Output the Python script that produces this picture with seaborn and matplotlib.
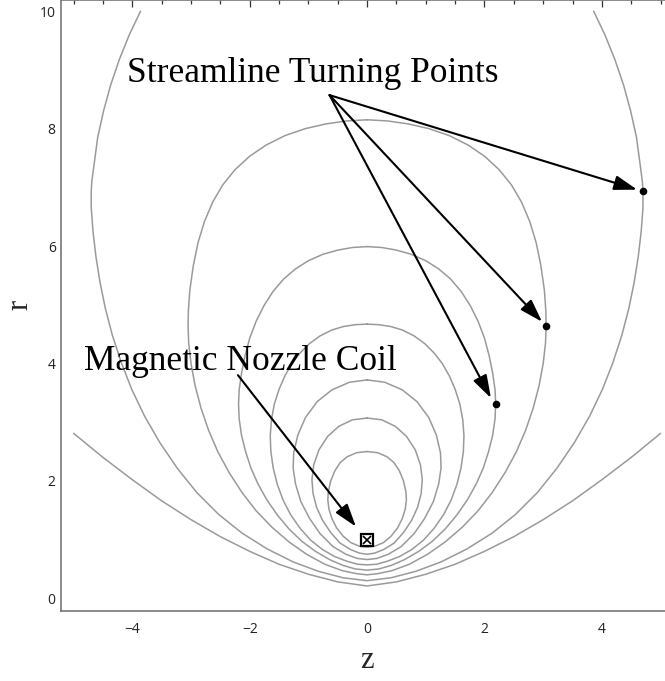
import numpy as np
import pandas as pd
import seaborn as sns
import matplotlib
matplotlib.use("Agg")
import matplotlib.pyplot as plt
from matplotlib.ticker import MultipleLocator

# ---- data: right halves (z >= 0) of each field line ----
c1_z = [0, 0.18, 0.34, 0.46, 0.55, 0.62, 0.66, 0.67, 0.65, 0.60, 0.52, 0.41, 0.28, 0.14, 0]
c1_r = [2.50, 2.48, 2.41, 2.31, 2.17, 2.00, 1.82, 1.68, 1.52, 1.36, 1.20, 1.06, 0.95, 0.89, 0.87]
c2_z = [0, 0.25, 0.48, 0.67, 0.82, 0.91, 0.94, 0.92, 0.86, 0.76, 0.62, 0.46, 0.28, 0.13, 0]
c2_r = [3.07, 3.04, 2.93, 2.76, 2.53, 2.27, 2.02, 1.78, 1.55, 1.33, 1.12, 0.94, 0.83, 0.77, 0.75]
c3_z = [0, 0.30, 0.60, 0.85, 1.05, 1.18, 1.25, 1.26, 1.22, 1.13, 0.98, 0.80, 0.58, 0.36, 0.17, 0]
c3_r = [3.72, 3.68, 3.55, 3.35, 3.08, 2.78, 2.48, 2.22, 1.95, 1.65, 1.36, 1.10, 0.88, 0.75, 0.68, 0.66]
c4_z = [0, 0.20, 0.40, 0.60, 0.80, 0.98, 1.14, 1.28, 1.40, 1.50, 1.58, 1.63, 1.65, 1.64, 1.60,
        1.53, 1.43, 1.30, 1.14, 0.96, 0.76, 0.55, 0.34, 0.16, 0]
c4_r = [4.67, 4.66, 4.63, 4.57, 4.47, 4.34, 4.18, 4.00, 3.79, 3.56, 3.31, 3.04, 2.77, 2.50, 2.22,
        1.94, 1.67, 1.42, 1.19, 0.99, 0.83, 0.71, 0.63, 0.58, 0.57]
c5_z = [0, 0.25, 0.50, 0.75, 1.00, 1.22, 1.42, 1.60, 1.76, 1.89, 2.00, 2.08, 2.14, 2.18, 2.19,
        2.18, 2.14, 2.07, 1.98, 1.86, 1.71, 1.53, 1.33, 1.11, 0.88, 0.64, 0.41, 0.20, 0]
c5_r = [5.99, 5.975, 5.93, 5.86, 5.75, 5.61, 5.44, 5.23, 4.98, 4.72, 4.43, 4.13, 3.83, 3.55, 3.31,
        3.06, 2.78, 2.50, 2.22, 1.95, 1.68, 1.42, 1.18, 0.97, 0.80, 0.66, 0.56, 0.50, 0.48]
c6_z = [0, 0.35, 0.70, 1.05, 1.40, 1.72, 2.00, 2.25, 2.46, 2.63, 2.77, 2.88, 2.96, 3.02, 3.045,
        3.05, 3.04, 3.00, 2.93, 2.83, 2.70, 2.54, 2.35, 2.13, 1.89, 1.62, 1.33, 1.03, 0.72, 0.42,
        0.18, 0]
c6_r = [8.15, 8.13, 8.08, 8.00, 7.88, 7.72, 7.53, 7.30, 7.04, 6.75, 6.42, 6.06, 5.67, 5.25, 4.90,
        4.64, 4.35, 4.00, 3.62, 3.24, 2.86, 2.49, 2.14, 1.80, 1.49, 1.21, 0.96, 0.75, 0.58, 0.47,
        0.42, 0.40]
c7_z = [3.86, 4.05, 4.22, 4.37, 4.49, 4.59, 4.65, 4.69, 4.70, 4.70, 4.67, 4.62, 4.55, 4.46, 4.34,
        4.19, 4.01, 3.79, 3.53, 3.23, 2.90, 2.53, 2.13, 1.70, 1.26, 0.83, 0.41, 0]
c7_r = [10.0, 9.60, 9.18, 8.74, 8.30, 7.85, 7.40, 7.10, 6.93, 6.65, 6.25, 5.82, 5.38, 4.94, 4.48,
        4.02, 3.56, 3.10, 2.65, 2.21, 1.80, 1.43, 1.11, 0.84, 0.62, 0.46, 0.35, 0.30]
c8_z = [5.0, 4.5, 4.0, 3.5, 3.0, 2.5, 2.0, 1.5, 1.0, 0.5, 0]
c8_r = [2.81, 2.40, 2.02, 1.66, 1.34, 1.05, 0.80, 0.58, 0.41, 0.28, 0.21]

turn_z = [2.19, 3.05, 4.70]
turn_r = [3.31, 4.64, 6.93]
coil_z = [0.0]
coil_r = [1.0]

xticks_major = [-4, -2, 0, 2, 4]
xtick_labels = ["\u22124", "\u22122", "0", "2", "4"]
yticks_major = [0, 2, 4, 6, 8, 10]

curves = [(c1_z, c1_r), (c2_z, c2_r), (c3_z, c3_r), (c4_z, c4_r),
          (c5_z, c5_r), (c6_z, c6_r), (c7_z, c7_r), (c8_z, c8_r)]

rows = []
for k, (zz, rr) in enumerate(curves):
    zz = np.asarray(zz, float)
    rr = np.asarray(rr, float)
    # right half (top -> bottom) followed by mirrored left half (bottom -> top)
    fz = np.concatenate([zz, -zz[::-1][1:]])
    fr = np.concatenate([rr, rr[::-1][1:]])
    for i, (a, b) in enumerate(zip(fz, fr)):
        rows.append({"curve": k, "order": i, "z": a, "r": b})
df = pd.DataFrame(rows)

sns.set_style("white")
plt.rcParams["font.family"] = ["Open Sans", "DejaVu Sans"]

fig = plt.figure(figsize=(6.65, 6.81), dpi=100)
ax = fig.add_axes([61.3 / 665, 1 - 611 / 681, 611.6 / 665, 611 / 681])

sns.lineplot(data=df, x="z", y="r", units="curve", estimator=None, sort=False,
             color="#9a9a9a", linewidth=1.1, ax=ax, legend=False)

ax.set_xlim(-5.21, 5.21)
ax.set_ylim(-0.216, 10.19)

serif = ["Liberation Serif", "DejaVu Serif"]
# arrows
origin = (-0.64, 8.57)
tips = [(2.11, 3.41), (2.98, 4.71), (4.60, 6.96)]
aprops = dict(arrowstyle="-|>,head_length=1.0,head_width=0.32", color="black",
              lw=1.5, mutation_scale=14, shrinkA=0, shrinkB=0)
for t in tips:
    ax.annotate("", xy=t, xytext=origin, arrowprops=aprops)
ax.annotate("", xy=(-0.19, 1.22), xytext=(-2.20, 3.80), arrowprops=aprops)

ax.text(2.243, 8.80, "Streamline Turning Points", ha="right", va="baseline",
        fontsize=25.5, family=serif, color="black")
ax.text(-4.83, 3.89, "Magnetic Nozzle Coil", ha="left", va="baseline",
        fontsize=25.5, family=serif, color="black")

sns.scatterplot(x=turn_z, y=turn_r, color="black", s=30, edgecolor="black",
                linewidth=0, ax=ax, zorder=5)
ax.plot(coil_z, coil_r, marker="s", markersize=8, mfc="white", mec="black",
        mew=1.6, ls="none", zorder=6)
ax.plot(coil_z, coil_r, marker="x", markersize=6, mec="black", mew=1.2,
        ls="none", zorder=7)

ax.set_xticks(xticks_major)
ax.set_yticks(yticks_major)
ax.set_xticklabels(xtick_labels)
ax.xaxis.set_minor_locator(MultipleLocator(0.5))
ax.yaxis.set_minor_locator(MultipleLocator(0.5))
ax.tick_params(which="both", direction="in", top=True, right=True,
               color="#333333", width=0.9)
ax.tick_params(which="major", length=5)
ax.tick_params(which="minor", length=3)
ax.tick_params(axis="x", which="major", labelsize=10, pad=8, labelcolor="#222222")
ax.tick_params(axis="y", which="major", labelsize=10, pad=4, labelcolor="#222222")
for s in ax.spines.values():
    s.set_visible(True)
    s.set_color("#777777")
    s.set_linewidth(1.2)
ax.set_xlabel("")
ax.set_ylabel("")

fig.text(367 / 665, 1 - 660 / 681, "z", ha="center", va="center",
         fontsize=22, family=serif)
fig.text(20 / 665, 1 - 305 / 681, "r", ha="center", va="center",
         fontsize=22, family=serif, rotation=90)

fig.savefig("out.png", dpi=100)
